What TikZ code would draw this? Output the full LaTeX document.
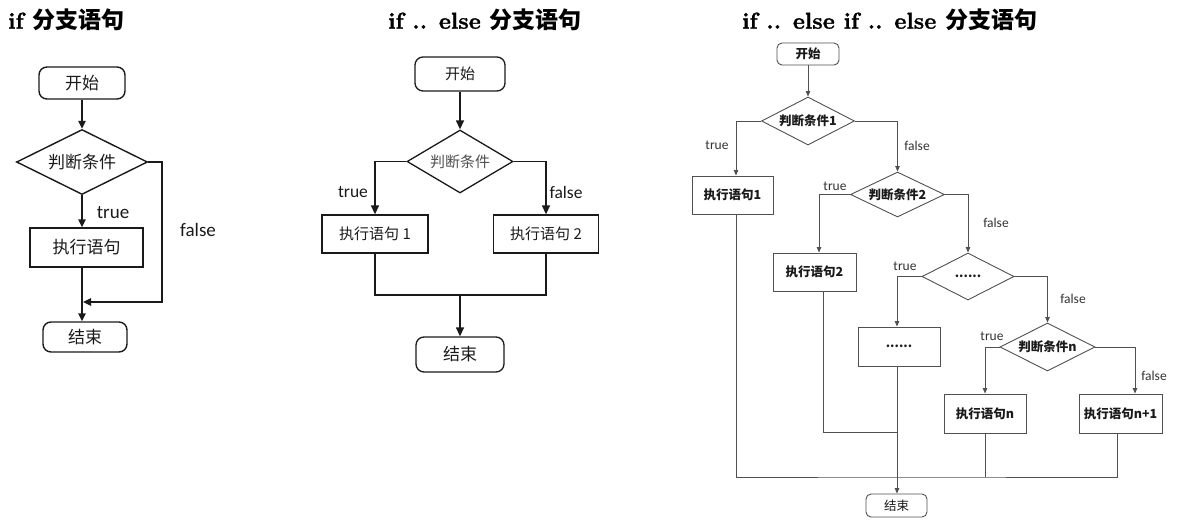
\documentclass[tikz,border=0pt]{standalone}
\usepackage{fontspec}
\usetikzlibrary{arrows.meta,shapes.geometric}
\newfontfamily\cjk{Noto Sans CJK SC}
\newfontfamily\lat{Carlito}
\newfontfamily\ttlfont{lmroman10-bold}[Extension=.otf, FakeBold=1.2]
\definecolor{lineA}{HTML}{1A1A1A}
\definecolor{lineC}{HTML}{505050}
\definecolor{txtC}{HTML}{1A1A1A}
\definecolor{lblC}{HTML}{333333}
\begin{document}
\begin{tikzpicture}[x=1pt,y=-1pt,
  title/.style={font=\ttlfont\fontsize{23}{25}\selectfont, anchor=west, inner sep=0pt},
  % left diagram
  boxA/.style={draw=lineA, line width=1.4pt, inner sep=0pt, font=\cjk\fontsize{17}{18}\selectfont, text=lineA},
  termA/.style={boxA, rectangle, rounded corners=8pt},
  procA/.style={boxA, rectangle},
  decA/.style={boxA, diamond, aspect=2},
  arrA/.style={draw=lineA, line width=1.4pt, -{Triangle[length=8pt,width=7.5pt]}},
  linA/.style={draw=lineA, line width=1.4pt},
  lblA/.style={font=\lat\fontsize{19}{20}\selectfont, text=lineA, inner sep=0pt},
  % middle diagram
  boxB/.style={draw=lineA, line width=1.3pt, inner sep=0pt, font=\cjk\fontsize{15}{16}\selectfont, text=lineA},
  termB/.style={boxB, rectangle, rounded corners=8pt},
  procB/.style={boxB, rectangle},
  decB/.style={boxB, diamond, aspect=1.7, text=lineC},
  arrB/.style={draw=lineA, line width=1.3pt, -{Triangle[length=9pt,width=8pt]}},
  linB/.style={draw=lineA, line width=1.3pt},
  lblB/.style={font=\lat\fontsize{17.5}{18}\selectfont, text=lineA, inner sep=0pt},
  % right diagram
  boxC/.style={draw=lineC, line width=0.9pt, inner sep=0pt, font=\cjk\bfseries\fontsize{12.5}{13}\selectfont, text=txtC},
  termC/.style={boxC, rectangle, rounded corners=5pt},
  procC/.style={boxC, rectangle},
  decC/.style={boxC, diamond, aspect=2},
  arrC/.style={draw=lineC, line width=0.9pt, -{Triangle[length=5.5pt,width=4.5pt]}},
  linC/.style={draw=lineC, line width=0.9pt},
  lblC/.style={font=\lat\fontsize{13.5}{14}\selectfont, text=lblC, inner sep=0pt}
]
\useasboundingbox (0,0) rectangle (1180,528);

% ---------- titles ----------
\node[title] (t1) at (8,20) {if {\cjk\bfseries 分支语句}};
\node[title] (t2) at (388,20) {if .. else {\cjk\bfseries 分支语句}};
\node[title] (t3) at (742,20) {if .. else if .. else {\cjk\bfseries 分支语句}};

% ---------- left: if ----------
\node[termA, minimum width=86pt, minimum height=32pt] (s1) at (82,83) {开始};
\node[decA, minimum width=131pt, minimum height=65pt] (d1) at (82,162) {判断条件};
\node[procA, minimum width=113pt, minimum height=39pt] (p1) at (86.5,247.5) {执行语句};
\node[termA, minimum width=84pt, minimum height=30pt] (e1) at (85,337) {结束};
\coordinate (f1) at (162,162);
\coordinate (j1) at (83,302);
\draw[arrA] (s1) -- (d1);
\draw[arrA] (d1.south) -- (d1.south |- p1.north);
\draw[arrA] (d1.south |- p1.south) -- (d1.south |- e1.north);
\draw[arrA] (d1.east) -- (f1) |- (j1);
\node[lblA] (l1t) at (113,213) {true};
\node[lblA] (l1f) at (198,230) {false};

% ---------- middle: if .. else ----------
\node[termB, minimum width=90pt, minimum height=34pt] (s2) at (460,74) {开始};
\node[decB, minimum width=106pt, minimum height=63pt] (d2) at (460,161.5) {判断条件};
\node[procB, minimum width=106pt, minimum height=38pt] (p21) at (375,234) {执行语句 1};
\node[procB, minimum width=105pt, minimum height=38pt] (p22) at (546,234) {执行语句 2};
\node[termB, minimum width=88pt, minimum height=35pt, font=\cjk\fontsize{17}{18}\selectfont] (e2) at (460,354.5) {结束};
\coordinate (m2) at (460,295);
\draw[arrB] (s2) -- (d2);
\draw[arrB] (d2.west) -| (p21.north);
\draw[arrB] (d2.east) -| (p22.north);
\draw[linB] (p21.south) |- (m2) -| (p22.south);
\draw[arrB] (m2) -- (e2.north);
\node[lblB] (l2t) at (353,192) {true};
\node[lblB] (l2f) at (566,192) {false};

% ---------- right: if .. else if .. else ----------
\node[termC, minimum width=62pt, minimum height=22pt] (s3) at (808,54) {开始};
\node[decC, minimum width=93pt, minimum height=48pt] (d31) at (808,121) {判断条件1};
\node[procC, minimum width=81pt, minimum height=38pt] (p31) at (732.5,195) {执行语句1};
\node[decC, minimum width=94pt, minimum height=45pt] (d32) at (897.5,194.5) {判断条件2};
\node[procC, minimum width=83pt, minimum height=38pt] (p32) at (814.5,272) {执行语句2};
\node[decC, minimum width=92pt, minimum height=47pt] (d33) at (968,276.5) {......};
\node[procC, minimum width=82pt, minimum height=39pt] (p33) at (899,346.5) {......};
\node[decC, minimum width=95pt, minimum height=48pt] (d3n) at (1047.5,347) {判断条件n};
\node[procC, minimum width=82pt, minimum height=39pt] (p3n) at (985,413.5) {执行语句n};
\node[procC, minimum width=83pt, minimum height=39pt] (p3n1) at (1120.5,413.5) {执行语句n+1};
\node[termC, minimum width=61pt, minimum height=23pt, font=\cjk\fontsize{12.5}{13}\selectfont] (e3) at (896.5,505.5) {结束};
\coordinate (b1) at (897,432);
\coordinate (b2) at (897,477);

\draw[arrC] (s3) -- (d31);
\draw[arrC] (d31.west) -| ([xshift=3.5pt]p31.north);
\draw[arrC] (d31.east) -| (d32.north);
\draw[arrC] (d32.west) -| ([xshift=4.5pt]p32.north);
\draw[arrC] (d32.east) -| (d33.north);
\draw[arrC] (d33.west) -| ([xshift=-2pt]p33.north);
\draw[arrC] (d33.east) -| (d3n.north);
\draw[arrC] (d3n.west) -| (p3n.north);
\draw[arrC] (d3n.east) -| ([xshift=14.5pt]p3n1.north);
\draw[linC] ([xshift=8.5pt]p32.south) |- (b1);
\draw[linC] ([xshift=3.5pt]p31.south) |- (b2) -| ([xshift=-3.5pt]p3n1.south);
\draw[linC] (p3n.south) -- (p3n.south |- b2);
\draw[arrC] ([xshift=-2pt]p33.south) -- ([xshift=0.5pt]e3.north);

\node[lblC] (l31t) at (717,145) {true};
\node[lblC] (l31f) at (917,146) {false};
\node[lblC] (l32t) at (835,186) {true};
\node[lblC] (l32f) at (996,223) {false};
\node[lblC] (l33t) at (905,266) {true};
\node[lblC] (l33f) at (1073,299) {false};
\node[lblC] (l3nt) at (992,336) {true};
\node[lblC] (l3nf) at (1154,376) {false};
\end{tikzpicture}
\end{document}
